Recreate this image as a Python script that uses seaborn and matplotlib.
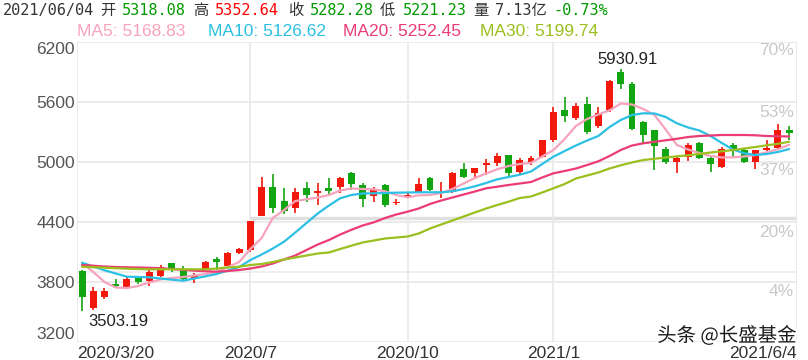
import numpy as np
import pandas as pd
import matplotlib
matplotlib.use("Agg")
import matplotlib.pyplot as plt
import matplotlib.patheffects as pe
import seaborn as sns

# weekly candles 2020/3/20 .. 2021/6/4
opens = [3912, 3537, 3650, 3782, 3740, 3844, 3807, 3857, 3984, 3917,
         3827, 3927, 4027, 3962, 4087, 4114, 4462, 4750, 4607, 4534,
         4734, 4684, 4734, 4750, 4884, 4767, 4657, 4767, 4590, 4644,
         4700, 4834, 4684, 4700, 4924, 4884, 4967, 4984, 5067, 4900,
         4994, 5050, 5217, 5517, 5434, 5574, 5357, 5517, 5900, 5774,
         5400, 5317, 5124, 5000, 5050, 5184, 5034, 4950, 5167, 5117,
         5000, 5117, 5134, 5318.08]
highs = [3915, 3747, 3734, 3824, 3857, 3850, 3917, 3964, 3990, 3954,
         3890, 4010, 4050, 4100, 4137, 4410, 4850, 4874, 4737, 4734,
         4800, 4790, 4834, 4850, 4900, 4790, 4750, 4774, 4624, 4684,
         4834, 4850, 4800, 4900, 4990, 4940, 5027, 5084, 5067, 5034,
         5057, 5217, 5550, 5650, 5584, 5650, 5544, 5817, 5930.91, 5800,
         5407, 5317, 5150, 5050, 5190, 5200, 5050, 5144, 5184, 5134,
         5117, 5217, 5377, 5352.64]
lows = [3503.19, 3517, 3627, 3750, 3735, 3774, 3760, 3850, 3902, 3817,
        3790, 3920, 3920, 3950, 4075, 4100, 4455, 4484, 4480, 4484,
        4600, 4567, 4667, 4684, 4717, 4550, 4600, 4550, 4567, 4634,
        4684, 4707, 4634, 4690, 4834, 4844, 4867, 4957, 4850, 4867,
        4967, 5034, 5194, 5400, 5417, 5280, 5340, 5500, 5724, 5317,
        5174, 4917, 4977, 4884, 5010, 5027, 4900, 4934, 5034, 4984,
        4924, 5110, 5124, 5221.23]
closes = [3650, 3707, 3710, 3757, 3827, 3800, 3897, 3950, 3927, 3827,
          3867, 3997, 4002, 4084, 4124, 4404, 4750, 4534, 4507, 4694,
          4670, 4707, 4710, 4834, 4774, 4624, 4724, 4567, 4600, 4667,
          4777, 4717, 4700, 4884, 4850, 4934, 4984, 5060, 4884, 5017,
          5040, 5217, 5500, 5460, 5560, 5294, 5490, 5807, 5774, 5327,
          5267, 5157, 5000, 5034, 5167, 5034, 4977, 5124, 5117, 5000,
          5117, 5134, 5317, 5282.28]

ma5 = [3984, 3897, 3797, 3742, 3737, 3757, 3792, 3822, 3837, 3847,
       3862, 3877, 3897, 3947, 3997, 4127, 4237, 4437, 4517, 4607,
       4624, 4642, 4667, 4712, 4732, 4727, 4724, 4704, 4667, 4644,
       4664, 4667, 4687, 4727, 4782, 4837, 4882, 4924, 4957, 4977,
       4989, 5052, 5117, 5227, 5357, 5427, 5472, 5514, 5582, 5572,
       5527, 5467, 5322, 5167, 5122, 5087, 5057, 5042, 5044, 5052,
       5067, 5095, 5125, 5168.83]
ma10 = [3990, 3952, 3914, 3882, 3850, 3847, 3844, 3832, 3820, 3810,
        3832, 3854, 3877, 3912, 3947, 4017, 4072, 4132, 4200, 4292,
        4387, 4482, 4562, 4634, 4667, 4682, 4684, 4687, 4690, 4692,
        4694, 4694, 4694, 4704, 4727, 4754, 4787, 4824, 4847, 4870,
        4902, 4977, 5050, 5107, 5162, 5212, 5257, 5347, 5417, 5467,
        5484, 5482, 5447, 5384, 5342, 5312, 5257, 5187, 5122, 5084,
        5067, 5077, 5097, 5126.62]
ma20 = [3967, 3960, 3952, 3947, 3944, 3942, 3939, 3935, 3927, 3919,
        3910, 3905, 3900, 3907, 3917, 3932, 3952, 3982, 4022, 4062,
        4117, 4172, 4217, 4272, 4319, 4362, 4394, 4437, 4472, 4500,
        4532, 4577, 4612, 4642, 4672, 4702, 4734, 4750, 4767, 4782,
        4797, 4842, 4884, 4907, 4932, 4967, 5004, 5057, 5117, 5162,
        5184, 5199, 5214, 5229, 5247, 5257, 5262, 5267, 5267, 5267,
        5264, 5257, 5254, 5252.45]
ma30 = [3950, 3945, 3940, 3935, 3930, 3927, 3924, 3924, 3924, 3924,
        3924, 3924, 3932, 3942, 3950, 3967, 3977, 3997, 4022, 4042,
        4062, 4082, 4092, 4127, 4160, 4192, 4212, 4232, 4242, 4252,
        4282, 4332, 4372, 4412, 4452, 4492, 4532, 4567, 4600, 4637,
        4652, 4692, 4734, 4777, 4832, 4862, 4892, 4932, 4964, 4992,
        5017, 5029, 5042, 5054, 5064, 5077, 5092, 5104, 5117, 5132,
        5147, 5164, 5179, 5199.74]

x_ticks = [-0.45, 15, 29, 42, 63.7]
x_labels = ["2020/3/20", "2020/7", "2020/10", "2021/1", "2021/6/4"]
y_ticks = [3200, 3800, 4400, 5000, 5600, 6200]
pct_ticks = [4, 20, 37, 53, 70]

RED = "#f2180c"
GREEN = "#12a512"
MA_COLORS = {"MA5": "#f7a3bb", "MA10": "#2bc0e4", "MA20": "#ec3c74", "MA30": "#9bbf1e"}

sns.set_style("white")
plt.rcParams["font.family"] = ["Liberation Sans", "Noto Sans CJK SC", "DejaVu Sans"]

W, H = 808, 360
fig = plt.figure(figsize=(W / 100, H / 100), dpi=100)
ax = fig.add_axes([77 / W, 1 - 341.7 / H, 720 / W, 300 / H])

df = pd.DataFrame({"open": opens, "high": highs, "low": lows, "close": closes})
df["idx"] = np.arange(len(df))
colors = np.where(df["close"] >= df["open"], RED, GREEN)

# wicks + bodies
ax.vlines(df["idx"], df["low"], df["high"], colors=colors, lw=1.2, zorder=2)
body_lo = df[["open", "close"]].min(axis=1)
body_h = (df["close"] - df["open"]).abs().clip(lower=9)
ax.bar(df["idx"], body_h, bottom=body_lo, width=0.62, color=colors, lw=0, zorder=3)

ma = pd.DataFrame({"idx": df["idx"], "MA5": ma5, "MA10": ma10, "MA20": ma20, "MA30": ma30})
ma_long = ma.melt(id_vars="idx", var_name="line", value_name="value")
sns.lineplot(data=ma_long, x="idx", y="value", hue="line", palette=MA_COLORS,
             lw=1.6, legend=False, ax=ax, zorder=4)

ax.set_xlim(x_ticks[0], x_ticks[-1])
ax.set_ylim(y_ticks[0], y_ticks[-1])
ax.set_xticks(x_ticks)
ax.set_xticklabels(x_labels)
ax.set_yticks(y_ticks)
ax.set_xlabel("")
ax.set_ylabel("")
ax.set_axisbelow(True)
ax.grid(True, color="#e9e9e9", lw=1.3)
# leftover grid pieces from the app screenshot
ax.axhline(3897, color="#ececec", lw=1.2, zorder=0)
ax.hlines(4437, x_ticks[1], x_ticks[-1], color="#e0e0e0", lw=2.4, zorder=0)
for s in ax.spines.values():
    s.set_visible(False)

ax.tick_params(axis="both", length=0, labelsize=12.5)
ax.tick_params(axis="y", pad=1.5, labelcolor="#555555")
ax.tick_params(axis="x", pad=3, labelcolor="#333333")
xl = ax.get_xticklabels()
xl[0].set_ha("left")
xl[-1].set_ha("right")
yl = ax.get_yticklabels()
yl[0].set_va("bottom")
yl[-1].set_va("top")

# percent scale on the right, drawn inside
ax2 = ax.twinx()
ax2.set_ylim(-10.2, 72.0)
ax2.set_yticks(pct_ticks)
ax2.set_yticklabels([f"{p}%" for p in pct_ticks])
ax2.tick_params(axis="y", length=0, pad=-2, labelsize=12.5, labelcolor="#c8c8c8")
for lbl in ax2.get_yticklabels():
    lbl.set_ha("right")
for s in ax2.spines.values():
    s.set_visible(False)
ax2.grid(False)

# high / low marks
hi = int(np.argmax(highs))
lo = int(np.argmin(lows))
ax.annotate(f"{highs[hi]:.2f}", xy=(hi, highs[hi]), xytext=(5, 1), textcoords="offset points",
            ha="center", va="bottom", fontsize=12, color="#222222", zorder=6)
ax.annotate(f"{lows[lo]:.2f}", xy=(lo, lows[lo]), xytext=(4.3, -2), textcoords="offset points",
            ha="left", va="top", fontsize=12, color="#222222", zorder=6)

# header rows
mono = ["DejaVu Sans Mono", "Noto Sans CJK SC"]
cjk = ["Noto Sans CJK SC", "DejaVu Sans"]
y1 = 1 - 15 / H
header = [(3, "2021/06/04", "#333333", mono), (100, "开", "#333333", cjk),
          (122, "5318.08", "#009900", mono), (193, "高", "#333333", cjk),
          (215, "5352.64", "#ff0000", mono), (288, "收", "#333333", cjk),
          (310, "5282.28", "#009900", mono), (380, "低", "#333333", cjk),
          (403, "5221.23", "#009900", mono), (473, "量", "#333333", cjk),
          (495, "7.13亿", "#333333", mono), (553, "-0.73%", "#009900", mono)]
for px, txt, col, fam in header:
    fig.text(px / W, y1, txt, color=col, family=fam, fontsize=11, va="baseline")

y2 = 1 - 36.5 / H
ma_last = [(77, "MA5", ma5[-1]), (208, "MA10", ma10[-1]), (343, "MA20", ma20[-1]), (480, "MA30", ma30[-1])]
for px, name, val in ma_last:
    fig.text(px / W, y2, f"{name}: {val:.2f}", color=MA_COLORS[name], fontsize=12.5,
             family=["Liberation Sans", "DejaVu Sans"], va="baseline")

# watermark
fig.text(797 / W, 1 - 336 / H, "头条 @长盛基金", ha="right", va="center", fontsize=14,
         color="#1a1a1a", family=["Noto Sans CJK SC", "DejaVu Sans"],
         path_effects=[pe.withStroke(linewidth=3, foreground="white")], zorder=10)

fig.savefig("out.png", dpi=100, facecolor="white")
